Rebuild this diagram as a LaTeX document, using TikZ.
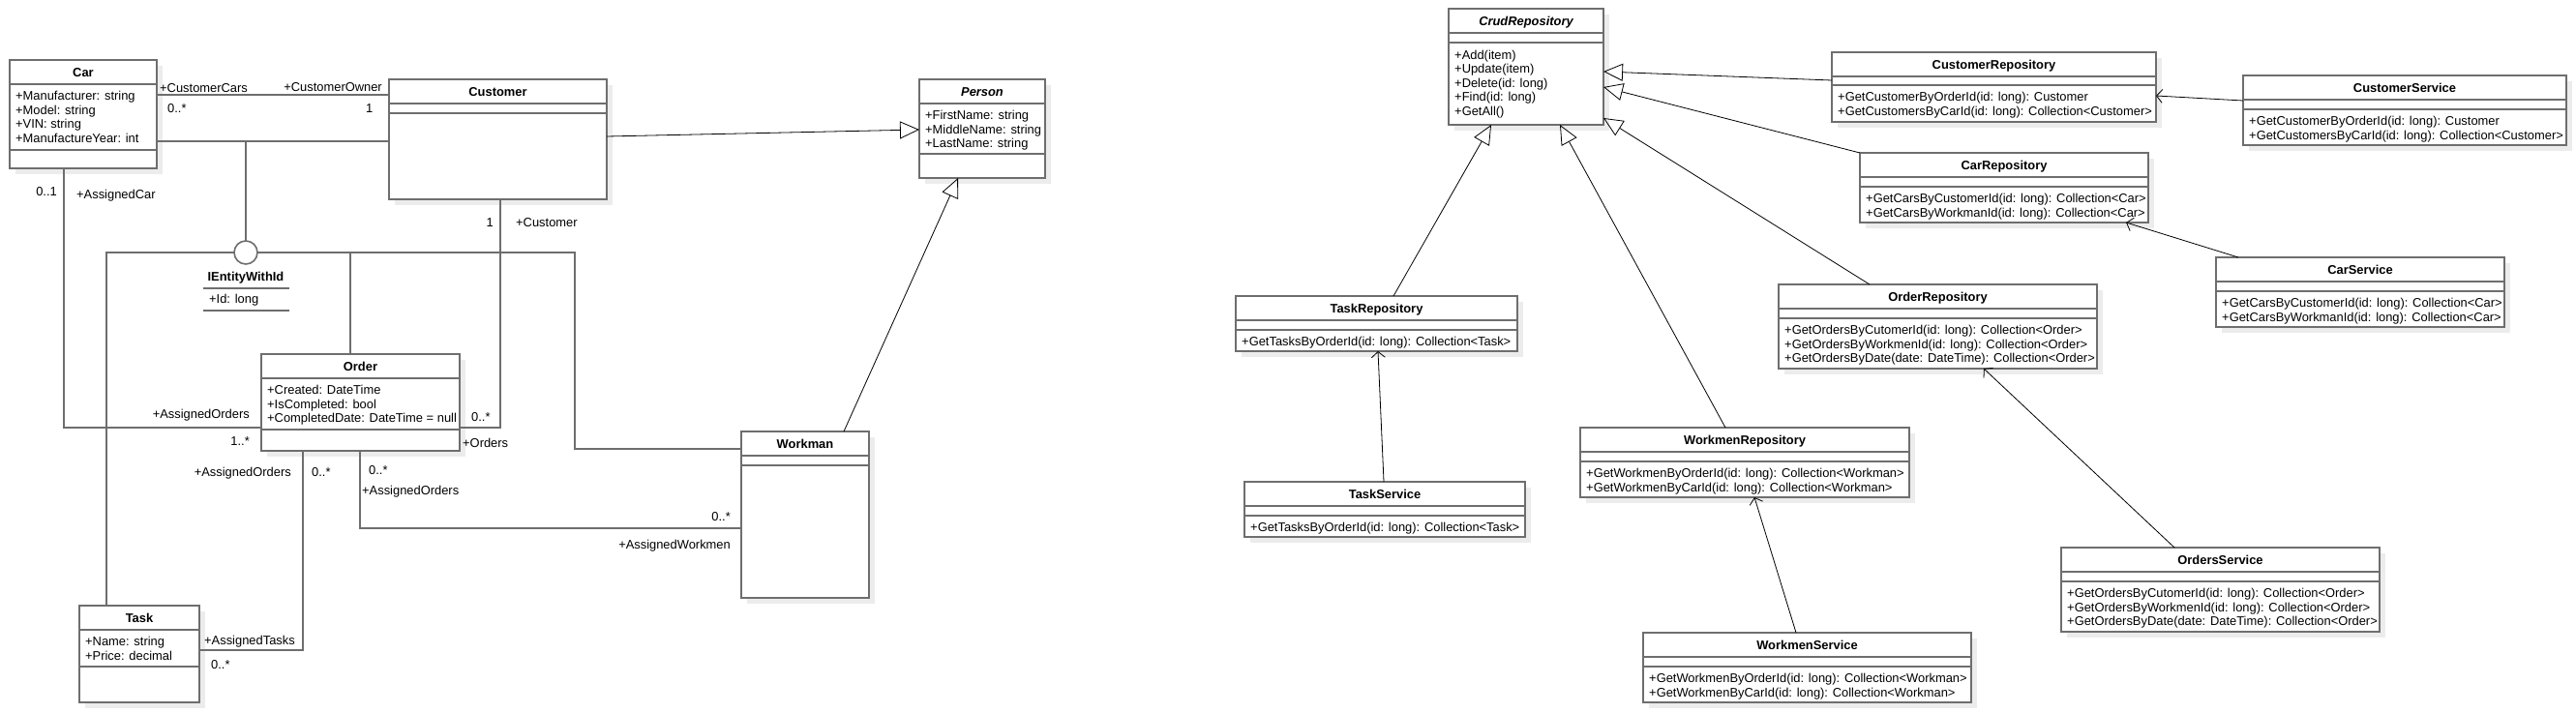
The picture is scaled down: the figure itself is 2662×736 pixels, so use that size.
\documentclass[tikz,border=0pt]{standalone}
\usepackage{fontspec}
\setmainfont{Liberation Sans}
\usetikzlibrary{arrows.meta,shadows}
\definecolor{umlgray}{RGB}{110,110,110}
\definecolor{shadowgray}{RGB}{236,236,236}

% class box: name, x, y, width, height, title, y of lower separator
\newcommand{\umlclass}[7]{%
  \node[classbox,minimum width=#4pt,minimum height=#5pt] (#1) at (#2,#3) {};
  \node[classtitle] (#1-title) at (#2+#4/2,#3+17) {#6};
  \draw[sepline] (#2,#3+25) -- ++(#4,0);
  \draw[sepline] (#2,#7) -- ++(#4,0);
}
% member lines: name, x, first baseline, list
\newcommand{\umlmembers}[4]{%
  \foreach \mbr [count=\k] in {#4}
    \node[member] (#1-m\k) at (#2+6,#3+14.6*\k-14.6) {\mbr};
}

\begin{document}
\begin{tikzpicture}[x=1pt,y=-1pt,
font=\fontsize{12.9}{14.8}\selectfont,
classbox/.style={draw=umlgray,line width=1.6pt,fill=white,anchor=north west,inner sep=0,outer sep=0,
    drop shadow={shadow xshift=6pt,shadow yshift=-6pt,fill=shadowgray,opacity=1}},
classtitle/.style={anchor=base,inner sep=0,font=\fontsize{12.9}{14.8}\selectfont\bfseries},
sepline/.style={draw=umlgray,line width=1.6pt},
member/.style={anchor=base west,inner sep=0},
iface/.style={circle,draw=umlgray,line width=1.6pt,fill=white,minimum size=24pt,inner sep=0,outer sep=0},
assoc/.style={draw=umlgray,line width=1.6pt},
role/.style={inner sep=0},
inherit/.style={draw=black,line width=0.8pt,-{Triangle[open,length=20pt,width=18pt]}},
uses/.style={draw=black,line width=0.8pt,-{Straight Barb[length=6pt,width=14pt]}}]
\useasboundingbox (0,0) rectangle (2662,736);

% domain model
\umlclass{car}{10}{62}{152}{112}{Car}{155}
\umlmembers{car}{10}{103.5}{+Manufacturer: string,+Model: string,+VIN: string,+ManufactureYear: int}
\umlclass{customer}{402}{82}{225}{124}{Customer}{117}
\umlclass{person}{950}{82}{130}{102}{\itshape Person}{159}
\umlmembers{person}{950}{123.5}{+FirstName: string,+MiddleName: string,+LastName: string}
\umlclass{order}{270}{366}{205}{100}{Order}{444}
\umlmembers{order}{270}{407.5}{+Created: DateTime,+IsCompleted: bool,+CompletedDate: DateTime = null}
\umlclass{task}{82}{626}{124}{100}{Task}{689}
\umlmembers{task}{82}{667.5}{+Name: string,+Price: decimal}
\umlclass{workman}{766}{446}{132}{172}{Workman}{481}

\node[iface] (ientity) at (254,261) {};
\node[classtitle] (ientity-title) at (254,290.5) {IEntityWithId};
\draw[sepline] (210,298) -- (299,298);
\node[member] (ientity-m1) at (216,313.5) {+Id: long};
\draw[sepline] (210,321) -- (299,321);

\coordinate (bus) at (254,146);
\coordinate (wbend) at (594,261);
\draw[assoc] ([yshift=-36pt]car.north east) -- ([yshift=-16pt]customer.north west);
\draw[assoc] ([yshift=-84pt]car.north east) -- ([yshift=-64pt]customer.north west);
\draw[assoc] (bus) -- (ientity.north);
\draw[assoc] (ientity.west) -| ([xshift=28pt]task.north west);
\draw[assoc] (ientity.east) -| ([xshift=92pt]order.north west);
\draw[assoc] (ientity.east) -- (wbend) |- ([yshift=-18pt]workman.north west);
\draw[assoc] ([xshift=115pt]customer.south west) |- ([yshift=24pt]order.south east);
\draw[assoc] ([xshift=56pt]car.south west) |- ([yshift=24pt]order.south west);
\draw[assoc] ([xshift=43pt]order.south west) |- ([yshift=-46pt]task.north east);
\draw[assoc] ([xshift=102pt]order.south west) |- ([yshift=-100pt]workman.north west);
\draw[inherit] ([yshift=-59pt]customer.north east) -- ([yshift=-52pt]person.north west);
\draw[inherit] ([xshift=106pt]workman.north west) -- ([xshift=40pt]person.south west);

% role names and multiplicities
\node[role,anchor=base west] (rcars) at (165,95) {+CustomerCars};
\node[role,anchor=base west] (mcars) at (173,116) {0..*};
\node[role,anchor=base east] (rowner) at (395,94) {+CustomerOwner};
\node[role,anchor=base west] (mowner) at (378,116) {1};
\node[role,anchor=base east] (mcar) at (59,202) {0..1};
\node[role,anchor=base west] (rcar) at (79,205) {+AssignedCar};
\node[role,anchor=base east] (mcust) at (510,234) {1};
\node[role,anchor=base west] (rcust) at (533,234) {+Customer};
\node[role,anchor=base east] (rcarord) at (258,432) {+AssignedOrders};
\node[role,anchor=base east] (mcarord) at (258,460) {1..*};
\node[role,anchor=base west] (mcustord) at (487,435) {0..*};
\node[role,anchor=base west] (rcustord) at (478,462) {+Orders};
\node[role,anchor=base east] (rtaskord) at (301,492) {+AssignedOrders};
\node[role,anchor=base west] (mtaskord) at (322,492) {0..*};
\node[role,anchor=base west] (mworkord) at (381,490) {0..*};
\node[role,anchor=base west] (rworkord) at (374,511) {+AssignedOrders};
\node[role,anchor=base east] (mwork) at (755,538) {0..*};
\node[role,anchor=base east] (rwork) at (755,567) {+AssignedWorkmen};
\node[role,anchor=base west] (rtask) at (211,666) {+AssignedTasks};
\node[role,anchor=base west] (mtask) at (218,691) {0..*};

% repositories and services
\umlclass{crud}{1497}{9}{160}{120}{\itshape CrudRepository}{44}
\umlmembers{crud}{1497}{61}{+Add(item),+Update(item),+Delete(id: long),+Find(id: long),+GetAll()}
\umlclass{custrepo}{1893}{54}{335}{72}{CustomerRepository}{88}
\umlmembers{custrepo}{1893}{104.5}{+GetCustomerByOrderId(id: long): Customer,+GetCustomersByCarId(id: long): Collection<Customer>}
\umlclass{custservice}{2318}{78}{334}{72}{CustomerService}{113}
\umlmembers{custservice}{2318}{129.5}{+GetCustomerByOrderId(id: long): Customer,+GetCustomersByCarId(id: long): Collection<Customer>}
\umlclass{carrepo}{1922}{158}{298}{72}{CarRepository}{193}
\umlmembers{carrepo}{1922}{209.5}{+GetCarsByCustomerId(id: long): Collection<Car>,+GetCarsByWorkmanId(id: long): Collection<Car>}
\umlclass{carservice}{2290}{266}{298}{72}{CarService}{301}
\umlmembers{carservice}{2290}{317.5}{+GetCarsByCustomerId(id: long): Collection<Car>,+GetCarsByWorkmanId(id: long): Collection<Car>}
\umlclass{orderrepo}{1838}{294}{329}{87}{OrderRepository}{329}
\umlmembers{orderrepo}{1838}{345.5}{+GetOrdersByCutomerId(id: long): Collection<Order>,+GetOrdersByWorkmenId(id: long): Collection<Order>,+GetOrdersByDate(date: DateTime): Collection<Order>}
\umlclass{orderservice}{2130}{566}{329}{87}{OrdersService}{601}
\umlmembers{orderservice}{2130}{617.5}{+GetOrdersByCutomerId(id: long): Collection<Order>,+GetOrdersByWorkmenId(id: long): Collection<Order>,+GetOrdersByDate(date: DateTime): Collection<Order>}
\umlclass{taskrepo}{1277}{306}{291}{57}{TaskRepository}{341}
\umlmembers{taskrepo}{1277}{357.5}{+GetTasksByOrderId(id: long): Collection<Task>}
\umlclass{taskservice}{1286}{498}{290}{57}{TaskService}{533}
\umlmembers{taskservice}{1286}{549.5}{+GetTasksByOrderId(id: long): Collection<Task>}
\umlclass{workrepo}{1633}{442}{340}{72}{WorkmenRepository}{477}
\umlmembers{workrepo}{1633}{493.5}{+GetWorkmenByOrderId(id: long): Collection<Workman>,+GetWorkmenByCarId(id: long): Collection<Workman>}
\umlclass{workservice}{1698}{654}{339}{72}{WorkmenService}{689}
\umlmembers{workservice}{1698}{705.5}{+GetWorkmenByOrderId(id: long): Collection<Workman>,+GetWorkmenByCarId(id: long): Collection<Workman>}

\draw[inherit] ([yshift=-29pt]custrepo.north west) -- ([yshift=-65pt]crud.north east);
\draw[inherit] (carrepo.north west) -- ([yshift=-81pt]crud.north east);
\draw[inherit] ([xshift=94pt]orderrepo.north west) -- ([yshift=-113pt]crud.north east);
\draw[inherit] ([xshift=163pt]taskrepo.north west) -- ([xshift=44pt]crud.south west);
\draw[inherit] ([xshift=150pt]workrepo.north west) -- ([xshift=115pt]crud.south west);
\draw[uses] ([yshift=-26pt]custservice.north west) -- ([yshift=-45pt]custrepo.north east);
\draw[uses] ([xshift=23pt]carservice.north west) -- ([xshift=-23pt]carrepo.south east);
\draw[uses] ([xshift=117pt]orderservice.north west) -- ([xshift=212pt]orderrepo.south west);
\draw[uses] ([xshift=144pt]taskservice.north west) -- ([xshift=147pt]taskrepo.south west);
\draw[uses] ([xshift=158pt]workservice.north west) -- ([xshift=180pt]workrepo.south west);
\end{tikzpicture}
\end{document}
